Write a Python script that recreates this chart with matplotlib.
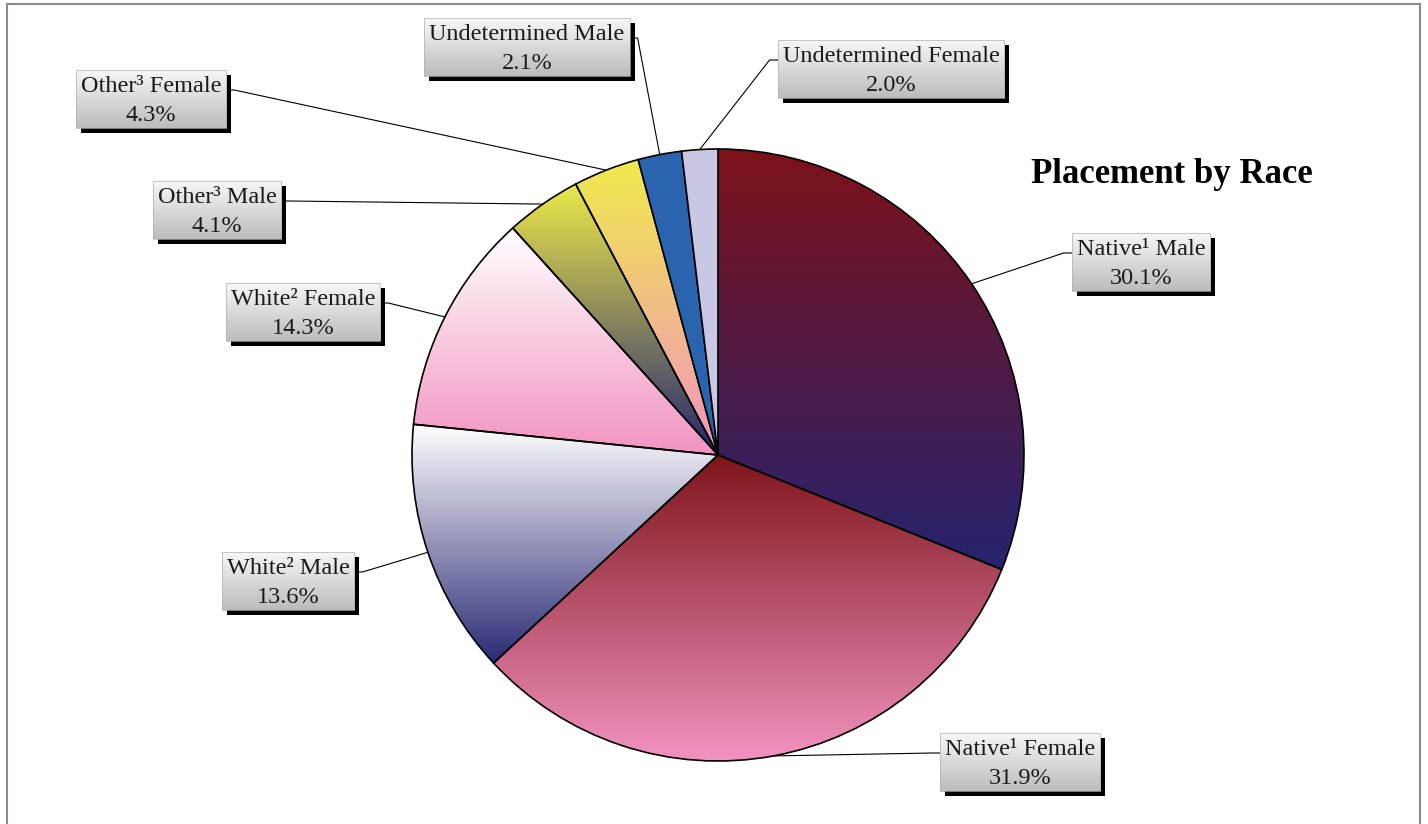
import matplotlib.pyplot as plt
import numpy as np
from matplotlib.colors import LinearSegmentedColormap
from matplotlib.patches import Rectangle

W, H = 1428, 824

groups = ['Native¹ Male', 'Native¹ Female', 'White² Male', 'White² Female',
          'Other³ Male', 'Other³ Female', 'Undetermined Male', 'Undetermined Female']
# slice sizes as drawn (the printed percentages do not add up to 100)
shares = [31.1, 32.0, 13.5, 11.7, 4.0, 3.5, 2.3, 1.9]
pct_labels = ['30.1%', '31.9%', '13.6%', '14.3%', '4.1%', '4.3%', '2.1%', '2.0%']

# (top colour, bottom colour); None means solid
fills = [
    ('#7d1219', '#25246f'),
    ('#7f1419', '#f293c0'),
    ('#ffffff', '#2a2a75'),
    ('#ffffff', '#f293c0'),
    ('#ece94a', '#25246f'),
    ('#f0ea4c', '#f293c0'),
    ('#2a63ae', None),
    ('#c8c8e4', None),
]

# label box centres in image pixels (x right, y down)
box_centres = [(1141, 262), (1020, 762), (288, 581), (303, 312),
               (217, 210), (151, 99), (527, 47), (891, 69)]

FONT = 'Liberation Serif'


def flip(y):
    return H - y


def gradient(ax, c_top, c_bot, extent, clip=None, z=1):
    cmap = LinearSegmentedColormap.from_list('g', [c_bot, c_top])
    grad = np.linspace(0, 1, 256).reshape(-1, 1)
    im = ax.imshow(grad, cmap=cmap, extent=extent, origin='lower',
                   aspect='auto', interpolation='bilinear', zorder=z)
    if clip is not None:
        im.set_clip_path(clip)
    return im


fig = plt.figure(figsize=(W / 100, H / 100), dpi=100)
ax = fig.add_axes([0, 0, 1, 1])

cx, cy, r = 718, flip(455), 306
wedges, _ = ax.pie(shares, center=(cx, cy), radius=r, startangle=90,
                   counterclock=False,
                   wedgeprops=dict(edgecolor='black', linewidth=1.2))

for w, (c0, c1) in zip(wedges, fills):
    w.set_zorder(3)
    if c1 is None:
        w.set_facecolor(c0)
        continue
    w.set_facecolor('none')
    bb = w.get_path().get_extents()
    gradient(ax, c0, c1, (bb.x0, bb.x1, bb.y0, bb.y1), clip=w, z=2)

ax.set_xlim(0, W)
ax.set_ylim(0, H)
ax.set_aspect('equal')
ax.axis('off')
fig.canvas.draw()

# labels with shaded boxes and leader lines
renderer = fig.canvas.get_renderer()
inv = ax.transData.inverted()
for w, name, pct, (bx, by) in zip(wedges, groups, pct_labels, box_centres):
    t = ax.text(bx, flip(by) - 2, f'{name}\n{pct}', ha='center', va='center',
                family=FONT, fontsize=17.5, linespacing=1.5, color='#1a1a1a',
                zorder=8)
    ext = t.get_window_extent(renderer)
    (x0, _), (x1, _) = inv.transform([(ext.x0, ext.y0), (ext.x1, ext.y1)])
    x0, x1 = x0 - 5, x1 + 5
    y0, y1 = flip(by) - 29, flip(by) + 29
    ax.add_patch(Rectangle((x0 + 5, y0 - 5), x1 - x0, y1 - y0,
                           facecolor='black', edgecolor='none', zorder=5))
    gradient(ax, '#f7f7f7', '#bcbcbc', (x0, x1, y0, y1), z=6)
    ax.add_patch(Rectangle((x0, y0), x1 - x0, y1 - y0, facecolor='none',
                           edgecolor='#b0b0b0', linewidth=0.5, zorder=7))

    mid = np.deg2rad((w.theta1 + w.theta2) / 2)
    rx, ry = cx + r * np.cos(mid), cy + r * np.sin(mid)
    ly = y1 - 20
    if rx > x1:
        ex, kx = x1, x1 + 8
    else:
        ex, kx = x0, x0 - 8
    ax.plot([rx, kx, ex], [ry, ly, ly], color='black', linewidth=0.8, zorder=4)

ax.text(1172, flip(174), 'Placement by Race', ha='center', va='center',
        family=FONT, fontsize=25, fontweight='bold')

# outer frame
ax.add_patch(Rectangle((7, -10), 1413, flip(4) + 10, facecolor='none',
                       edgecolor='#8a8a8a', linewidth=1.5, zorder=1))

ax.set_xlim(0, W)
ax.set_ylim(0, H)

fig.savefig('out.png', dpi=100)
